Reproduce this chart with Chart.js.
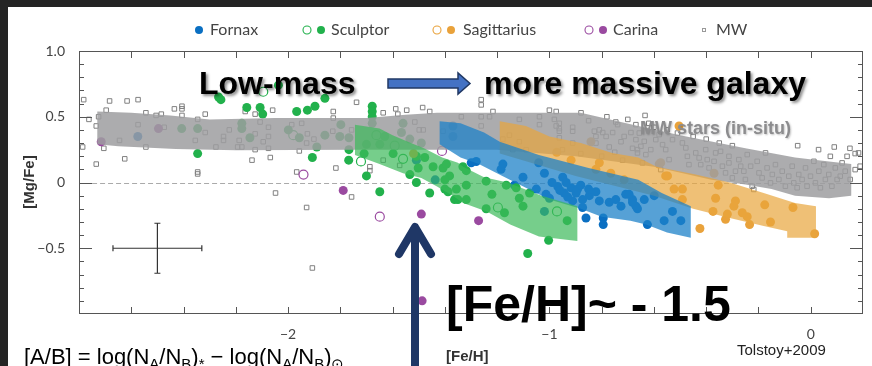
<!DOCTYPE html>
<html>
<head>
<meta charset="utf-8">
<script src="https://cdn.jsdelivr.net/npm/chart.js@4.4.0/dist/chart.umd.min.js"></script>
<style>
  html, body { margin: 0; padding: 0; background: #fff; }
  #wrap { width: 872px; height: 366px; position: relative; }
</style>
</head>
<body>
<div id="wrap"><canvas id="chart" width="872" height="366"></canvas></div>
<script>
// [Fe/H] vs [Mg/Fe], Tolstoy+2009 style plot

const xTicks = [-2.6, -2.4, -2.2, -2.0, -1.8, -1.6, -1.4, -1.2, -1.0, -0.8, -0.6, -0.4, -0.2, 0.0];
const yTicks = [-0.9, -0.8, -0.7, -0.6, -0.5, -0.4, -0.3, -0.2, -0.1, 0, 0.1, 0.2, 0.3, 0.4, 0.5, 0.6, 0.7, 0.8, 0.9];
const xLabels = [-2, -1, 0];
const yLabels = [1.0, 0.5, 0, -0.5];

const fornax = [
  [-2.575, 0.35], [-1.509, 0.17], [-1.437, 0.02], [-1.019, -0.22], [-1.369, 0.43], [-1.369, 0.35],
  [-1.28, 0.16], [-1.299, 0.15], [-1.178, 0.14], [-1.185, 0.10], [-1.134, -0.02], [-1.041, 0.15],
  [-1.019, 0.07], [-1.101, 0.04], [-1.013, -0.09], [-1.0, -0.12], [-0.968, -0.03], [-0.949, 0.04],
  [-0.936, 0.0], [-0.917, -0.04], [-0.898, -0.08], [-0.943, -0.08], [-0.911, -0.14], [-0.873, -0.13],
  [-0.847, -0.10], [-0.822, -0.07], [-0.809, -0.14], [-0.873, -0.19], [-0.86, -0.27], [-0.794, -0.27],
  [-0.794, -0.32], [-0.771, -0.15], [-0.746, -0.13], [-0.708, -0.09], [-0.682, -0.13], [-0.669, -0.18],
  [-0.726, -0.18], [-0.892, -0.05], [-0.682, -0.15], [-0.663, -0.20], [-0.637, -0.13], [-0.625, -0.32],
  [-0.561, -0.29], [-0.599, -0.10], [-0.529, -0.22], [-0.497, -0.29], [-0.695, -0.09], [-0.96, -0.06],
  [-0.93, -0.11], [-0.88, -0.02], [-0.85, -0.05], [-0.99, 0.0], [-1.05, -0.05]
];

const sculptor = [
  [-2.407, 0.41], [-2.346, 0.41], [-2.346, 0.22], [-2.257, 0.63], [-2.266, 0.65], [-2.158, 0.57],
  [-2.107, 0.57], [-2.097, 0.52], [-2.177, 0.45], [-2.177, 0.41], [-2.146, 0.34], [-2.037, 0.74],
  [-1.967, 0.54], [-1.926, 0.55], [-1.897, 0.58], [-1.859, 0.64], [-1.678, 0.58], [-1.678, 0.54],
  [-1.678, 0.50], [-1.999, 0.40], [-1.957, 0.34], [-1.859, 0.36], [-1.798, 0.44], [-1.802, 0.35],
  [-1.767, 0.34], [-1.767, 0.25], [-1.89, 0.27], [-1.907, 0.19], [-1.768, 0.17], [-1.70, 0.05],
  [-1.649, -0.07], [-1.709, 0.22], [-1.70, 0.29], [-1.678, 0.45], [-1.649, 0.29], [-1.630, 0.35],
  [-1.56, 0.45], [-1.566, 0.38], [-1.534, 0.33], [-1.49, 0.30], [-1.598, 0.22], [-1.509, 0.20],
  [-1.477, 0.19], [-1.502, 0.11], [-1.534, 0.06], [-1.509, 0.0], [-1.458, -0.08], [-1.445, 0.12],
  [-1.407, 0.11], [-1.382, 0.05], [-1.40, -0.05], [-1.356, -0.05], [-1.363, -0.13], [-1.394, 0.14],
  [-1.40, 0.02], [-1.331, 0.12], [-1.318, 0.09], [-1.388, -0.07], [-1.35, -0.13], [-1.318, -0.13],
  [-1.318, -0.02], [-1.242, 0.01], [-1.22, -0.09], [-1.165, -0.02], [-1.127, -0.04], [-1.115, -0.12],
  [-1.101, -0.18], [-1.076, -0.08], [-1.242, -0.20], [-1.172, -0.23], [-0.932, -0.29], [-1.003, -0.44],
  [-1.083, -0.54]
];
const sculptorOpen = [
  [-2.095, 0.69], [-1.98, 0.36], [-1.721, 0.16], [-1.662, 0.36], [-1.592, 0.28], [-1.56, 0.18],
  [-1.197, -0.19], [-0.971, -0.22]
];

const sagittarius = [
  [-1.52, 0.22], [-0.972, 0.23], [-0.917, 0.17], [-0.841, 0.31], [-0.809, 0.15], [-0.822, 0.10],
  [-0.765, 0.07], [-0.714, 0.02], [-0.504, 0.43], [-0.574, 0.15], [-0.548, 0.05], [-0.523, -0.05],
  [-0.491, -0.05], [-0.491, -0.13], [-0.37, 0.07], [-0.354, -0.02], [-0.364, -0.12], [-0.374, -0.22],
  [-0.424, -0.35], [-0.319, -0.24], [-0.326, -0.28], [-0.288, -0.14], [-0.294, -0.18], [-0.262, -0.23],
  [-0.243, -0.26], [-0.234, -0.32], [-0.176, -0.17], [-0.154, -0.30], [-0.068, -0.19], [0.015, -0.39],
  [-0.58, 0.14], [-0.555, 0.05]
];

const carina = [[-2.715, 0.31], [-2.496, 0.41], [-1.789, -0.06], [-1.49, -0.24], [-1.271, -0.29], [-1.487, -0.90]];
const carinaOpen = [[-1.941, 0.06], [-1.649, -0.26], [-1.411, 0.24]];

const mw = [
  [-2.782, 0.63], [-2.683, 0.62], [-2.616, 0.62], [-2.574, 0.63], [-2.696, 0.55], [-2.762, 0.48],
  [-2.725, 0.50], [-2.734, 0.43], [-2.544, 0.53], [-2.505, 0.51], [-2.485, 0.52], [-2.435, 0.56],
  [-2.406, 0.58], [-2.406, 0.56], [-2.406, 0.51], [-2.346, 0.48], [-2.317, 0.52], [-2.574, 0.44],
  [-2.474, 0.42], [-2.645, 0.32], [-2.705, 0.26], [-2.544, 0.27], [-2.625, 0.18], [-2.734, 0.14],
  [-2.355, 0.32], [-2.317, 0.38], [-2.346, 0.08], [-2.346, 0.065], [-2.276, 0.27], [-2.247, 0.35],
  [-2.247, 0.32], [-2.225, 0.40], [-2.193, 0.27], [-2.187, 0.32], [-2.177, 0.27], [-2.164, 0.54],
  [-2.126, 0.52], [-2.107, 0.46], [-2.075, 0.42], [-2.126, 0.37], [-2.095, 0.31], [-2.075, 0.35],
  [-2.126, 0.25], [-2.075, 0.26], [-2.138, 0.17], [-2.068, 0.19], [-2.059, 0.55], [-2.048, -0.08],
  [-2.786, 0.27], [-1.986, 0.44], [-1.948, 0.45], [-1.926, 0.37], [-1.901, 0.33], [-1.929, 0.30],
  [-1.957, 0.24], [-1.827, 0.54], [-1.827, 0.49], [-1.829, 0.39], [-1.757, 0.40], [-1.738, 0.61],
  [-1.636, 0.53], [-1.588, 0.56], [-1.58, 0.52], [-1.546, 0.55], [-1.458, 0.54], [-1.515, 0.46],
  [-1.498, 0.40], [-1.483, 0.40], [-1.636, 0.17], [-1.687, 0.12], [-1.687, 0.09], [-1.817, 0.11],
  [-1.967, 0.08], [-1.757, -0.11], [-1.929, -0.19], [-1.573, 0.13], [-1.907, -0.65], [-1.485, 0.57],
  [-1.261, 0.63], [-1.261, 0.59], [-1.216, 0.54], [-1.261, 0.50], [-1.115, 0.48], [-1.038, 0.50],
  [-0.974, 0.54], [-0.974, 0.43], [-1.261, 0.43], [-1.229, 0.50], [-1.337, 0.50], [-1.407, 0.39],
  [-1.0, 0.55], [-0.879, 0.53], [-1.038, 0.44], [-0.981, 0.48], [-0.962, 0.45], [-0.962, 0.41],
  [-0.962, 0.39], [-0.962, 0.34], [-0.911, 0.42], [-0.911, 0.39], [-0.911, 0.30], [-0.828, 0.39],
  [-0.822, 0.35], [-0.822, 0.30], [-0.809, 0.40], [-0.796, 0.38], [-0.783, 0.35], [-0.771, 0.27],
  [-0.758, 0.38], [-0.746, 0.46], [-0.739, 0.44], [-0.726, 0.31], [-0.714, 0.35], [-0.688, 0.38],
  [-0.682, 0.26], [-0.669, 0.44], [-0.663, 0.25], [-1.153, 0.36], [-1.115, 0.31], [-1.178, 0.33],
  [-1.14, 0.25], [-1.089, 0.25], [-0.634, 0.51], [-0.656, 0.376], [-0.669, 0.326], [-0.637, 0.313],
  [-0.650, 0.275], [-0.663, 0.225], [-0.631, 0.212], [-0.644, 0.149], [-0.612, 0.250], [-0.593, 0.326],
  [-0.580, 0.364], [-0.567, 0.288], [-0.555, 0.250], [-0.542, 0.174], [-0.574, 0.098], [-0.529, 0.326],
  [-0.510, 0.376], [-0.491, 0.301], [-0.478, 0.263], [-0.472, 0.199], [-0.466, 0.136], [-0.440, 0.225],
  [-0.427, 0.187], [-0.421, 0.136], [-0.402, 0.250], [-0.396, 0.174], [-0.389, 0.111], [-0.370, 0.161],
  [-0.364, 0.225], [-0.345, 0.237], [-0.338, 0.124], [-0.326, 0.073], [-0.313, 0.199], [-0.313, 0.149],
  [-0.300, 0.035], [-0.288, 0.086], [-0.275, 0.174], [-0.268, 0.124], [-0.256, 0.086], [-0.250, 0.023],
  [-0.243, 0.212], [-0.230, 0.124], [-0.224, -0.028], [-0.218, -0.053], [-0.205, 0.161], [-0.198, 0.073],
  [-0.186, 0.035], [-0.173, 0.225], [-0.167, 0.111], [-0.154, -0.003], [-0.147, 0.061], [-0.135, 0.136],
  [-0.122, 0.023], [-0.109, 0.086], [-0.097, -0.028], [-0.084, 0.048], [-0.071, 0.124], [-0.065, -0.003],
  [-0.052, -0.040], [-0.046, 0.061], [-0.033, 0.023], [-0.020, 0.111], [-0.014, -0.028], [-0.001, 0.048],
  [0.012, 0.161], [0.018, -0.003], [0.031, 0.086], [0.037, -0.040], [0.050, 0.136], [0.056, 0.023],
  [0.069, 0.061], [0.075, 0.199], [0.081, -0.028], [0.094, 0.111], [0.101, 0.023], [0.113, 0.048],
  [0.120, 0.149], [0.132, 0.086], [0.139, 0.199], [0.151, 0.023], [0.170, 0.098], [0.183, 0.225],
  [0.189, 0.124], [0.09, 0.27], [0.03, 0.25], [-0.05, 0.28], [0.15, 0.26], [0.17, 0.22],
  [-0.60, 0.42], [-0.55, 0.40], [-0.45, 0.35], [-0.40, 0.33], [-0.35, 0.30], [-0.30, 0.28],
  [-0.62, 0.45], [-0.85, 0.47], [-0.78, 0.50], [-0.70, 0.48], [-0.95, 0.25], [-0.88, 0.22],
  [-0.80, 0.20], [-0.75, 0.23], [-0.72, 0.17]
];

// shaded trend bands (polygon outlines)
const mwBand = [
  [-2.73, 0.54], [-2.6, 0.53], [-2.45, 0.51], [-2.3, 0.48], [-2.05, 0.49], [-1.7, 0.49], [-1.55, 0.515],
  [-1.43, 0.53], [-0.88, 0.53], [-0.66, 0.43], [-0.5, 0.36], [-0.25, 0.26], [-0.06, 0.19], [0.07, 0.16],
  [0.155, 0.14], [0.155, -0.10], [0.07, -0.12], [-0.06, -0.10], [-0.15, -0.05], [-0.25, -0.015],
  [-0.38, 0.02], [-0.6, 0.12], [-0.9, 0.2], [-1.2, 0.25], [-1.75, 0.25], [-2.2, 0.245], [-2.43, 0.255],
  [-2.65, 0.275], [-2.73, 0.29]
];
const sagBand = [
  [-1.19, 0.465], [-1.09, 0.43], [-1.0, 0.35], [-0.88, 0.30], [-0.76, 0.225], [-0.66, 0.19],
  [-0.59, 0.12], [-0.44, 0.06], [-0.31, 0.0], [-0.18, -0.08], [-0.06, -0.155], [0.02, -0.18],
  [0.02, -0.42], [-0.09, -0.42], [-0.09, -0.37], [-0.18, -0.33], [-0.31, -0.27], [-0.45, -0.20],
  [-0.6, -0.10], [-0.9, 0.05], [-1.19, 0.22]
];
const fornaxBand = [
  [-1.42, 0.465], [-1.34, 0.45], [-1.25, 0.38], [-1.19, 0.31], [-1.04, 0.21], [-0.85, 0.11],
  [-0.66, 0.02], [-0.57, -0.08], [-0.459, -0.18], [-0.459, -0.42], [-0.55, -0.38], [-0.63, -0.32],
  [-0.69, -0.29], [-0.80, -0.26], [-0.88, -0.20], [-1.0, -0.13], [-1.10, -0.03], [-1.18, 0.05],
  [-1.27, 0.14], [-1.34, 0.19], [-1.42, 0.29]
];
const sculptorBand = [
  [-1.744, 0.44], [-1.65, 0.41], [-1.60, 0.36], [-1.53, 0.30], [-1.48, 0.26], [-1.41, 0.19],
  [-1.35, 0.15], [-1.33, 0.12], [-1.25, 0.04], [-1.16, 0.0], [-1.03, -0.10], [-0.893, -0.18],
  [-0.893, -0.445], [-1.04, -0.41], [-1.15, -0.32], [-1.24, -0.22], [-1.33, -0.155], [-1.37, -0.10],
  [-1.43, -0.03], [-1.49, 0.035], [-1.56, 0.07], [-1.65, 0.14], [-1.744, 0.21]
];

// typical error
const errX = -2.5, errY = -0.5, errDx = 0.17, errDy = 0.19;

const toXY = arr => arr.map(p => ({ x: p[0], y: p[1] }));

function pts(data, color, open, order) {
  return {
    data: toXY(data),
    pointRadius: 4.5,
    pointHoverRadius: 4.5,
    pointBackgroundColor: open ? 'rgba(0,0,0,0)' : color,
    pointBorderColor: color,
    pointBorderWidth: open ? 1.2 : 0,
    showLine: false,
    order: order
  };
}

function band(data, color, order) {
  return {
    data: toXY(data),
    showLine: true,
    fill: 'shape',
    backgroundColor: color,
    borderWidth: 0,
    borderColor: 'rgba(0,0,0,0)',
    pointRadius: 0,
    tension: 0,
    order: order
  };
}

const decor = {
  id: 'decor',
  beforeDraw(chart) {
    const ctx = chart.ctx;
    ctx.save();
    ctx.fillStyle = '#fff';
    ctx.fillRect(0, 0, chart.width, chart.height);
    ctx.fillStyle = '#242424';
    ctx.fillRect(0, 0, chart.width, 7);
    ctx.fillRect(0, 0, 8, chart.height);
    ctx.restore();
  },
  beforeDatasetsDraw(chart) {
    const ctx = chart.ctx, xa = chart.scales.x, ya = chart.scales.y;
    const y0 = Math.round(ya.getPixelForValue(0)) + 0.5;
    ctx.save();
    ctx.strokeStyle = '#aaa';
    ctx.lineWidth = 1;
    ctx.setLineDash([5, 3]);
    ctx.beginPath();
    ctx.moveTo(xa.getPixelForValue(-2.75), y0);
    ctx.lineTo(chart.chartArea.right, y0);
    ctx.stroke();
    ctx.restore();
  },
  afterDraw(chart) {
    const ctx = chart.ctx, xa = chart.scales.x, ya = chart.scales.y, a = chart.chartArea;
    ctx.save();
    // frame + inward ticks
    ctx.strokeStyle = '#555';
    ctx.lineWidth = 1;
    ctx.strokeRect(a.left + 0.5, a.top + 0.5, a.right - a.left - 1, a.bottom - a.top - 1);
    ctx.beginPath();
    xTicks.forEach(v => {
      const px = Math.round(xa.getPixelForValue(v)) + 0.5;
      ctx.moveTo(px, a.top); ctx.lineTo(px, a.top + 7);
      ctx.moveTo(px, a.bottom); ctx.lineTo(px, a.bottom - 7);
    });
    yTicks.forEach(v => {
      const py = Math.round(ya.getPixelForValue(v)) + 0.5;
      const len = Math.abs(v * 2 - Math.round(v * 2)) < 1e-6 ? 13 : 5;
      ctx.moveTo(a.left, py); ctx.lineTo(a.left + len, py);
      ctx.moveTo(a.right, py); ctx.lineTo(a.right - len, py);
    });
    ctx.stroke();

    // error cross
    const ex = xa.getPixelForValue(errX), ey = ya.getPixelForValue(errY);
    const ex0 = xa.getPixelForValue(errX - errDx), ex1 = xa.getPixelForValue(errX + errDx);
    const ey0 = ya.getPixelForValue(errY + errDy), ey1 = ya.getPixelForValue(errY - errDy);
    ctx.strokeStyle = '#333';
    ctx.lineWidth = 1.2;
    ctx.beginPath();
    ctx.moveTo(ex0, ey); ctx.lineTo(ex1, ey);
    ctx.moveTo(ex, ey0); ctx.lineTo(ex, ey1);
    ctx.moveTo(ex0, ey - 3); ctx.lineTo(ex0, ey + 3);
    ctx.moveTo(ex1, ey - 3); ctx.lineTo(ex1, ey + 3);
    ctx.moveTo(ex - 3, ey0); ctx.lineTo(ex + 3, ey0);
    ctx.moveTo(ex - 3, ey1); ctx.lineTo(ex + 3, ey1);
    ctx.stroke();

    // axis titles
    ctx.fillStyle = '#333';
    ctx.font = 'bold 15px "Liberation Sans", Arial, sans-serif';
    ctx.textAlign = 'left';
    ctx.textBaseline = 'alphabetic';
    ctx.fillText('[Fe/H]', 446, 361);
    ctx.save();
    ctx.translate(34, 182);
    ctx.rotate(-Math.PI / 2);
    ctx.textAlign = 'center';
    ctx.fillText('[Mg/Fe]', 0, 0);
    ctx.restore();

    // legend
    const ly = 30;
    const dot = (x, c, open) => {
      ctx.beginPath();
      ctx.arc(x, ly, 4, 0, Math.PI * 2);
      if (open) { ctx.strokeStyle = c; ctx.lineWidth = 1.1; ctx.stroke(); }
      else { ctx.fillStyle = c; ctx.fill(); }
    };
    ctx.font = '16px Lato, "Liberation Sans", sans-serif';
    ctx.textBaseline = 'middle';
    ctx.textAlign = 'left';
    dot(199, '#0a6fc2', false);
    ctx.fillStyle = '#444'; ctx.fillText('Fornax', 210, ly);
    dot(307, '#22b14c', true); dot(321, '#22b14c', false);
    ctx.fillStyle = '#444'; ctx.fillText('Sculptor', 331, ly);
    dot(437, '#e9a23b', true); dot(451, '#e9a23b', false);
    ctx.fillStyle = '#444'; ctx.fillText('Sagittarius', 463, ly);
    dot(589, '#9a4aa0', true); dot(603, '#9a4aa0', false);
    ctx.fillStyle = '#444'; ctx.fillText('Carina', 613, ly);
    ctx.strokeStyle = '#999'; ctx.lineWidth = 1;
    ctx.strokeRect(702.5, ly - 1.5, 3, 3);
    ctx.fillStyle = '#444'; ctx.fillText('MW', 716, ly);

    // headline annotations
    ctx.textBaseline = 'alphabetic';
    ctx.font = 'bold 32px "Liberation Sans", Arial, sans-serif';
    ctx.save();
    ctx.shadowColor = 'rgba(0,0,0,0.45)';
    ctx.shadowBlur = 3;
    ctx.shadowOffsetX = 2;
    ctx.shadowOffsetY = 2;
    ctx.fillStyle = '#000';
    ctx.fillText('Low-mass', 199, 94);
    ctx.fillText('more massive galaxy', 484, 94);
    ctx.restore();

    // block arrow
    ctx.beginPath();
    ctx.moveTo(388, 79); ctx.lineTo(458, 79); ctx.lineTo(458, 73); ctx.lineTo(470, 83.5);
    ctx.lineTo(458, 94); ctx.lineTo(458, 88); ctx.lineTo(388, 88); ctx.closePath();
    ctx.fillStyle = '#4472c4'; ctx.fill();
    ctx.strokeStyle = '#203864'; ctx.lineWidth = 1.5; ctx.stroke();

    // MW label
    ctx.save();
    ctx.font = 'bold 18px "Liberation Sans", Arial, sans-serif';
    ctx.shadowColor = 'rgba(0,0,0,0.25)';
    ctx.shadowBlur = 2; ctx.shadowOffsetX = 1; ctx.shadowOffsetY = 1;
    ctx.fillStyle = '#8c8c8e';
    ctx.fillText('MW stars (in-situ)', 640, 134);
    ctx.restore();

    // vertical navy arrow
    ctx.strokeStyle = '#1f3766';
    ctx.lineWidth = 8;
    ctx.lineCap = 'round';
    ctx.lineJoin = 'round';
    ctx.beginPath();
    ctx.moveTo(415, 372); ctx.lineTo(415, 228);
    ctx.moveTo(399, 254); ctx.lineTo(415, 227); ctx.lineTo(431, 254);
    ctx.stroke();

    // big metallicity label
    ctx.fillStyle = '#000';
    ctx.font = 'bold 50px "Liberation Sans", Arial, sans-serif';
    ctx.fillText('[Fe/H]~ - 1.5', 446, 321);

    // formula
    const parts = [
      ['[A/B] = log(N', 0], ['A', 1], ['/N', 0], ['B', 1], [')', 0], ['*', 1],
      [' \u2212 log(N', 0], ['A', 1], ['/N', 0], ['B', 1], [')', 0], ['\u2299', 1]
    ];
    let fx = 24;
    parts.forEach(p => {
      ctx.font = p[1] ? '15px "Liberation Sans", Arial, sans-serif' : '22px "Liberation Sans", Arial, sans-serif';
      ctx.fillText(p[0], fx, p[1] ? 369 : 364);
      fx += ctx.measureText(p[0]).width;
    });

    ctx.font = '15px "Liberation Sans", Arial, sans-serif';
    ctx.fillStyle = '#222';
    ctx.fillText('Tolstoy+2009', 737, 355);
    ctx.restore();
  }
};

const ctx = document.getElementById('chart').getContext('2d');
new Chart(ctx, {
  type: 'scatter',
  data: {
    datasets: [
      band(sculptorBand, 'rgba(60,185,90,0.7)', 0),
      band(fornaxBand, 'rgba(30,130,200,0.75)', 1),
      band(sagBand, 'rgba(232,165,60,0.7)', 2),
      band(mwBand, 'rgba(158,158,160,0.85)', 3),
      pts(carina, '#9a4aa0', false, 4),
      pts(carinaOpen, '#9a4aa0', true, 4),
      pts(sagittarius, '#e9a23b', false, 5),
      pts(sculptor, '#22b14c', false, 6),
      pts(sculptorOpen, '#22b14c', true, 6),
      pts(fornax, '#0a6fc2', false, 7),
      {
        data: toXY(mw),
        pointStyle: 'rect',
        pointRadius: 3.2,
        pointBackgroundColor: 'rgba(0,0,0,0)',
        pointBorderColor: '#808080',
        pointBorderWidth: 1,
        showLine: false,
        order: 8
      }
    ]
  },
  options: {
    responsive: false,
    animation: false,
    events: [],
    layout: { padding: { left: 0, top: 51, right: 9, bottom: 0 } },
    plugins: { legend: { display: false }, tooltip: { enabled: false } },
    scales: {
      x: {
        type: 'linear',
        min: -2.8,
        max: 0.2,
        grid: { display: false },
        border: { display: false },
        afterFit: s => { s.height = 52; },
        ticks: {
          stepSize: 0.2,
          autoSkip: false,
          maxRotation: 0,
          padding: 4,
          color: '#444',
          font: { family: 'Lato', size: 14 },
          callback: v => {
            const hit = xLabels.find(l => Math.abs(l - v) < 1e-6);
            return hit === undefined ? '' : (hit < 0 ? '\u2212' + Math.abs(hit) : String(hit));
          }
        }
      },
      y: {
        type: 'linear',
        min: -1,
        max: 1,
        grid: { display: false },
        border: { display: false },
        afterFit: s => { s.width = 79; },
        ticks: {
          stepSize: 0.5,
          padding: 6,
          color: '#444',
          font: { family: 'Lato', size: 14 },
          callback: v => {
            const hit = yLabels.find(l => Math.abs(l - v) < 1e-6);
            if (hit === undefined) return '';
            if (hit === 0) return '0';
            return (hit < 0 ? '\u2212' : '') + Math.abs(hit).toFixed(1);
          }
        }
      }
    }
  },
  plugins: [decor]
});
</script>
</body>
</html>
